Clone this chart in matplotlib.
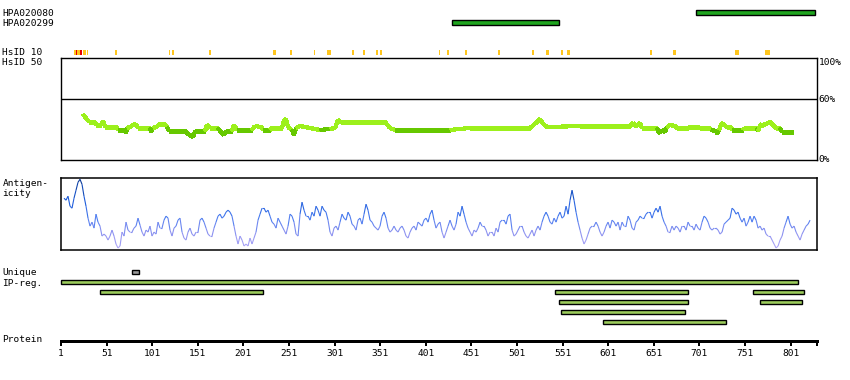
import numpy as np
import matplotlib
matplotlib.use('Agg')
import matplotlib.pyplot as plt
from matplotlib.collections import LineCollection
from matplotlib.colors import LinearSegmentedColormap

W, H = 850, 380
PROT_LEN = 830

# ---------------- data ----------------
ab_names = ['HPA020080', 'HPA020299']
ab_start = [697, 430]
ab_end = [828, 547]

hsid10_start = [15, 17, 19, 22, 25, 30, 60, 119, 123, 163, 233, 252, 278, 293, 320, 332,
                346, 351, 415, 424, 444, 480, 518, 533, 549, 556, 647, 672, 740, 773]
hsid10_end = [17, 19, 22, 24, 28, 31, 62, 121, 125, 165, 237, 254, 280, 297, 322, 334,
              349, 353, 417, 426, 446, 482, 520, 536, 551, 559, 649, 675, 744, 778]
hsid10_level = ['y', 'r', 'y', 'r', 'y', 'y', 'y', 'y', 'y', 'y', 'y', 'y', 'y', 'y', 'y', 'y',
                'y', 'y', 'y', 'y', 'y', 'y', 'y', 'y', 'y', 'y', 'y', 'y', 'y', 'y']

hsid50_res = [25.1, 28.4, 31.7, 38.3, 39.4, 44.9, 47.1, 49.3, 62.4, 63.5, 71.2, 72.3, 73.4, 76.7,
              80.0, 83.2, 85.4, 98.6, 99.7, 101.9, 105.2, 109.6, 115.0, 117.2, 119.4, 137.0,
              140.3, 145.8, 148.0, 158.9, 161.1, 164.4, 173.2, 175.4, 179.7, 181.9, 188.5,
              190.7, 192.9, 194.0, 210.4, 213.7, 221.4, 222.5, 230.2, 232.4, 243.3, 245.5,
              247.7, 249.9, 254.3, 256.5, 258.7, 263.1, 274.0, 285.0, 296.0, 301.5, 304.8,
              308.0, 328.9, 356.3, 361.8, 367.3, 427.6, 449.5, 515.3, 523.0, 526.3, 529.6,
              534.0, 570.1, 592.1, 625.0, 628.3, 631.6, 636.0, 638.1, 654.6, 655.7, 657.9,
              660.1, 663.4, 665.5, 668.8, 674.3, 676.5, 688.6, 690.8, 698.4, 701.7, 712.7,
              713.8, 719.3, 720.4, 722.6, 724.8, 727.0, 729.2, 731.4, 735.7, 736.8, 748.9,
              750.0, 764.2, 765.3, 767.5, 769.7, 771.9, 774.1, 776.3, 778.5, 780.7, 782.9,
              785.1, 789.5, 791.7, 803.8]
hsid50_pct = [45.2, 41.3, 37.4, 37.4, 34.4, 34.4, 38.3, 32.4, 32.4, 29.5, 29.5, 26.5, 31.5, 32.4,
              34.4, 35.4, 31.5, 31.5, 27.5, 31.5, 32.4, 35.4, 35.4, 32.4, 28.5, 28.5,
              25.6, 22.6, 28.5, 28.5, 34.4, 31.5, 31.5, 28.5, 24.6, 28.5, 28.5,
              34.4, 31.5, 29.5, 29.5, 33.4, 32.4, 29.5, 29.5, 31.5, 31.5, 39.3,
              40.3, 32.4, 29.5, 24.6, 31.5, 33.4, 31.5, 29.5, 30.5, 31.5, 39.3,
              37.4, 37.4, 37.4, 31.5, 29.5, 29.5, 31.5, 31.5, 37.4, 40.3, 35.4,
              32.4, 33.4, 33.4, 33.4, 36.4, 33.4, 36.4, 31.5, 31.5, 28.5, 26.5,
              29.5, 27.5, 32.4, 34.4, 33.4, 31.5, 31.5, 32.4, 32.4, 31.5, 31.5,
              29.5, 28.5, 25.6, 29.5, 35.4, 36.4, 33.4, 32.4, 32.4, 29.5, 29.5,
              31.5, 31.5, 28.5, 33.4, 35.4, 33.4, 36.4, 35.4, 38.3, 35.4, 33.4,
              31.5, 31.5, 27.5, 27.5]

antigen_vals = [52, 50, 54, 44, 42, 52, 60, 68, 71, 66, 54, 44, 32, 24, 28, 22, 36, 28, 24, 14,
                16, 14, 10, 14, 20, 14, 6, 2, 4, 18, 14, 28, 20, 18, 18, 22, 24, 32, 25, 18,
                14, 20, 18, 24, 14, 18, 16, 28, 22, 22, 30, 34, 32, 20, 14, 22, 24, 30, 32, 18,
                12, 10, 18, 22, 16, 14, 18, 18, 30, 32, 28, 22, 16, 14, 14, 22, 28, 34, 36, 32,
                34, 38, 40, 38, 34, 24, 14, 6, 14, 10, 4, 6, 4, 12, 6, 12, 18, 30, 36, 42,
                42, 38, 40, 34, 28, 26, 22, 32, 28, 24, 20, 16, 24, 36, 34, 28, 16, 14, 36, 48,
                40, 34, 34, 30, 38, 34, 44, 40, 34, 44, 40, 38, 30, 18, 14, 22, 24, 20, 28, 36,
                32, 30, 38, 34, 26, 24, 20, 30, 32, 26, 36, 46, 40, 30, 28, 24, 22, 20, 24, 34,
                38, 32, 22, 18, 20, 24, 20, 18, 22, 24, 20, 14, 12, 18, 22, 24, 20, 28, 26, 24,
                30, 32, 28, 36, 40, 30, 22, 26, 28, 18, 12, 18, 24, 30, 24, 20, 26, 38, 34, 44,
                36, 28, 22, 18, 14, 20, 18, 22, 28, 24, 24, 20, 14, 18, 18, 14, 22, 18, 28, 30,
                30, 26, 34, 36, 20, 14, 16, 20, 24, 24, 18, 14, 12, 16, 20, 14, 20, 24, 20, 28,
                34, 38, 34, 28, 26, 32, 28, 34, 38, 32, 34, 44, 36, 50, 60, 50, 38, 28, 20, 12,
                6, 10, 16, 22, 24, 24, 28, 24, 18, 14, 18, 24, 28, 22, 30, 28, 24, 28, 20, 28,
                24, 24, 34, 30, 22, 20, 28, 30, 34, 32, 32, 36, 38, 38, 32, 38, 42, 38, 44, 34,
                28, 24, 18, 18, 24, 20, 24, 22, 18, 24, 24, 20, 28, 24, 24, 20, 26, 22, 20, 28,
                34, 32, 28, 22, 20, 22, 22, 20, 16, 18, 26, 28, 30, 32, 42, 40, 36, 38, 32, 28,
                32, 24, 28, 34, 28, 34, 30, 22, 24, 20, 22, 16, 14, 14, 10, 6, 2, 4, 10, 14,
                22, 28, 34, 26, 22, 24, 18, 14, 10, 16, 20, 24, 26, 30]
antigen_first, antigen_last = 4.3, 822.4

unique_start = [79]
unique_end = [86]

ip_start = [1, 44, 543, 760, 547, 767, 549, 595]
ip_end = [809, 222, 688, 816, 688, 814, 685, 730]
ip_row = [0, 1, 1, 1, 2, 2, 3, 4]

tick_vals = [1, 51, 101, 151, 201, 251, 301, 351, 401, 451, 501, 551, 601, 651, 701, 751, 801]

# ---------------- layout helpers ----------------
FONT = 'DejaVu Sans Mono'
FS = 6.8
PX = 72.0 / 100.0  # points per pixel


def res_at_px(p):
    return 1 + (p - 61) * (PROT_LEN - 1) / 756.0


def box(x0, y0, x1, y1):
    return [x0 / W, 1 - y1 / H, (x1 - x0) / W, (y1 - y0) / H]


fig = plt.figure(figsize=(W / 100, H / 100), dpi=100)
fig.patch.set_facecolor('white')

# base axes for tracks: x in residues, y in pixel rows
ax0 = fig.add_axes([0, 0, 1, 1])
ax0.set_xlim(res_at_px(0), res_at_px(W))
ax0.set_ylim(H, 0)
ax0.axis('off')

# antibody tracks
ab_rows = [12.5, 22.5]
for i in range(len(ab_names)):
    ax0.barh(ab_rows[i], ab_end[i] - ab_start[i], left=ab_start[i], height=4.2,
             color='#1fa51f', edgecolor='black', linewidth=1.0)

# HsID 10 marks
lvl_col = {'y': '#ffc61e', 'r': '#e80000'}
for s, e, l in zip(hsid10_start, hsid10_end, hsid10_level):
    ax0.barh(52, e - s, left=s, height=5, color=lvl_col[l], linewidth=0)

# unique / IP-reg
ax0.barh(272.3, unique_end[0] - unique_start[0], left=unique_start[0], height=3.8,
         color='#999999', edgecolor='black', linewidth=1.0)
ip_y = [282.3, 292.3, 302.2, 312.2, 322.2]
for s, e, r in zip(ip_start, ip_end, ip_row):
    ax0.barh(ip_y[r], e - s, left=s, height=3.8, color='#9ccc5c',
             edgecolor='black', linewidth=1.0)

# ---------------- HsID 50 panel ----------------
ax1 = fig.add_axes(box(61, 58.3, 817, 160))
ax1.set_xlim(1, PROT_LEN)
ax1.set_ylim(0, 100)
ax1.set_xticks([])
ax1.set_yticks([])
for sp in ax1.spines.values():
    sp.set_linewidth(1.0)
ax1.axhline(60, color='black', lw=1.0)
pts = np.column_stack([hsid50_res, hsid50_pct])
segs = np.stack([pts[:-1], pts[1:]], axis=1)
mean_v = (pts[:-1, 1] + pts[1:, 1]) / 2
cols = ['#66c800' if v < 30.5 else '#9cf01c' for v in mean_v]
lc = LineCollection(segs, colors=cols, linewidths=2.3, capstyle='butt', joinstyle='miter',
                    antialiased=False)
ax1.add_collection(lc)
tr = ax1.get_yaxis_transform()
ax1.text(1.002, 96, '100%', transform=tr, va='center', ha='left', fontsize=FS, family=FONT)
ax1.text(1.002, 59.3, '60%', transform=tr, va='center', ha='left', fontsize=FS, family=FONT)
ax1.text(1.002, 0, '0%', transform=tr, va='center', ha='left', fontsize=FS, family=FONT)

# ---------------- Antigenicity panel ----------------
ax2 = fig.add_axes(box(61, 178.3, 817, 250))
ax2.set_xlim(1, PROT_LEN)
ax2.set_ylim(0, 72)
ax2.set_xticks([])
ax2.set_yticks([])
for sp in ax2.spines.values():
    sp.set_linewidth(1.1)
ag = np.asarray(antigen_vals, dtype=float)
ag_x = np.linspace(antigen_first, antigen_last, len(ag))
p2 = np.column_stack([ag_x, ag])
seg2 = np.stack([p2[:-1], p2[1:]], axis=1)
cmap = LinearSegmentedColormap.from_list('ag', [(0.0, '#b4aaf8'), (0.25, '#8c92f0'),
                                                (0.45, '#4a7cf0'), (0.7, '#1a5ad8'),
                                                (1.0, '#0a3890')])
mv = (ag[:-1] + ag[1:]) / 2 / 72.0
lc2 = LineCollection(seg2, colors=cmap(mv), linewidths=0.8)
ax2.add_collection(lc2)

# ---------------- Protein ruler ----------------
ax3 = fig.add_axes(box(61, 320, 817, 340.5))
ax3.set_xlim(1, PROT_LEN)
ax3.set_ylim(0, 1)
for k in ['top', 'left', 'right']:
    ax3.spines[k].set_visible(False)
ax3.spines['bottom'].set_linewidth(3 * PX)
ax3.set_yticks([])
ax3.set_xticks(tick_vals + [PROT_LEN])
ax3.set_xticklabels([str(t) for t in tick_vals] + [''], family=FONT, fontsize=FS)
ax3.tick_params(axis='x', direction='out', length=3.5 * PX * 1.4, width=2 * PX, pad=2.5)
ax3.patch.set_alpha(0)

# ---------------- labels ----------------
def label(y, s):
    fig.text(2.5 / W, 1 - y / H, s, va='center', ha='left', fontsize=FS, family=FONT)

label(13, 'HPA020080')
label(23, 'HPA020299')
label(52.3, 'HsID 10')
label(62.3, 'HsID 50')
label(183.3, 'Antigen-')
label(193.3, 'icity')
label(272.3, 'Unique')
label(283, 'IP-reg.')
label(340, 'Protein')

fig.savefig('out.png', dpi=100, facecolor='white')
